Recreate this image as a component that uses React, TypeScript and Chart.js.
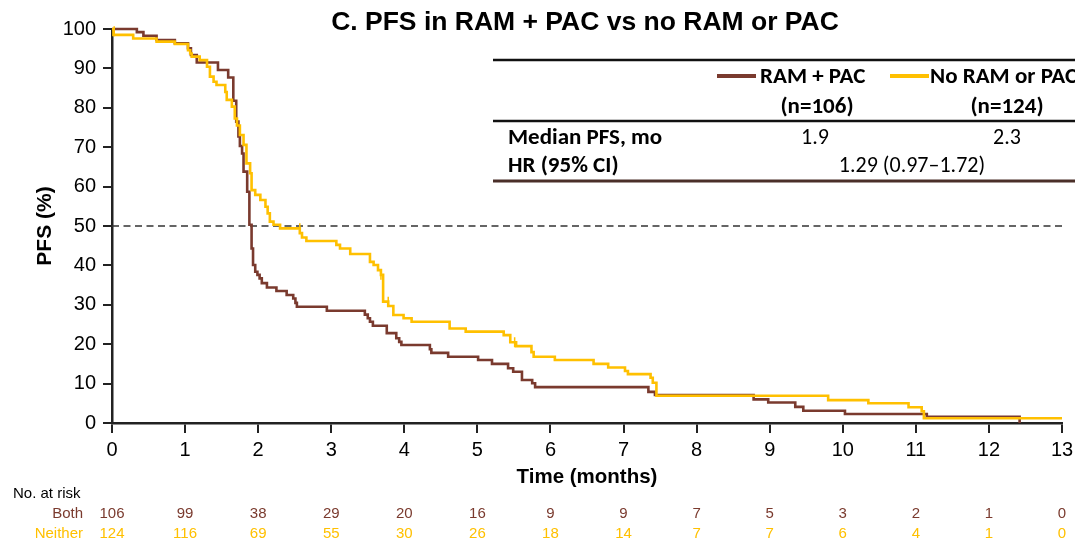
import React, { useEffect, useRef } from "react";
import { Chart, registerables } from "chart.js";

Chart.register(...registerables);

// ---- Data ----
const seriesLabels = ["RAM + PAC", "No RAM or PAC"];
const seriesN = ["(n=106)", "(n=124)"];
const medianPfs = ["1.9", "2.3"];
const hrText = "1.29 (0.97\u20131.72)";
const riskLabels = ["Both", "Neither"];

const ramPacTime = [0, 0.34, 0.43, 0.61, 0.86, 1.04, 1.08, 1.16, 1.45, 1.59, 1.66, 1.70, 1.73, 1.75, 1.78, 1.80, 1.85, 1.88, 1.91, 1.93, 1.96, 1.99, 2.02, 2.05, 2.12, 2.25, 2.39, 2.48, 2.51, 2.53, 2.94, 3.46, 3.50, 3.53, 3.57, 3.76, 3.89, 3.93, 3.96, 4.35, 4.37, 4.60, 5.01, 5.20, 5.42, 5.49, 5.61, 5.75, 5.79, 7.34, 7.43, 8.78, 8.98, 9.35, 9.46, 10.03, 11.15, 12.42];
const ramPacPfs = [100, 99.2, 98.3, 97.2, 96.4, 95.1, 93.4, 91.5, 89.6, 87.7, 81.8, 76.5, 72.7, 70.3, 68.4, 63.8, 58.7, 50.3, 44.3, 40.1, 38.4, 37.6, 36.7, 35.5, 34.4, 33.5, 32.5, 31.6, 30.5, 29.5, 28.5, 27.5, 26.6, 25.7, 24.7, 22.8, 21.5, 20.6, 19.8, 18.7, 17.8, 16.8, 16.0, 15.0, 13.9, 13.0, 10.9, 10.1, 9.1, 7.9, 7.1, 6.0, 5.2, 4.1, 3.1, 2.3, 1.6, 0];

const neitherTime = [0, 0.02, 0.29, 0.61, 0.86, 1.04, 1.07, 1.09, 1.20, 1.30, 1.34, 1.39, 1.43, 1.55, 1.57, 1.64, 1.68, 1.71, 1.75, 1.80, 1.84, 1.89, 1.91, 1.96, 2.03, 2.10, 2.13, 2.16, 2.21, 2.30, 2.57, 2.60, 2.66, 3.07, 3.12, 3.26, 3.53, 3.58, 3.64, 3.68, 3.71, 3.78, 3.85, 3.99, 4.10, 4.62, 4.84, 5.36, 5.45, 5.53, 5.74, 5.77, 6.06, 6.59, 6.79, 7.02, 7.06, 7.37, 7.40, 7.45, 9.80, 10.35, 10.90, 11.08, 11.11, 13.0];
const neitherPfs = [100, 98.5, 97.6, 96.8, 96.2, 94.6, 93.8, 93.0, 92.1, 90.4, 87.9, 86.6, 85.8, 84.0, 82.0, 80.3, 77.3, 75.5, 73.1, 70.6, 65.9, 63.4, 59.1, 57.9, 56.6, 54.9, 53.2, 51.1, 50.3, 49.4, 48.2, 47.1, 46.2, 45.2, 44.3, 42.9, 40.9, 40.1, 38.8, 37.6, 30.8, 29.7, 27.4, 26.6, 25.7, 24.0, 23.2, 22.3, 20.5, 19.5, 18.0, 16.8, 16.0, 15.0, 14.1, 13.2, 12.4, 11.5, 10.2, 6.9, 5.8, 5.0, 4.0, 3.0, 1.2, 1.2];

const neitherCensorTime = [0.03, 2.57, 3.68, 3.78, 5.51];
const neitherCensorPfs = [99.4, 49.4, 37.6, 30.8, 20.5];

const xTickValues = [0, 1, 2, 3, 4, 5, 6, 7, 8, 9, 10, 11, 12, 13];
const riskBoth = [106, 99, 38, 29, 20, 16, 9, 9, 7, 5, 3, 2, 1, 0];
const riskNeither = [124, 116, 69, 55, 30, 26, 18, 14, 7, 7, 6, 4, 1, 0];

// ---- Styles ----
const BROWN = "#7a3a2e";
const YELLOW = "#ffc000";
const ARIAL = "'Liberation Sans', Arial, sans-serif";
const TABLE_FONT = "Carlito, Lato, 'Noto Sans', sans-serif";

const toPoints = (xs: number[], ys: number[]) => xs.map((x, i) => ({ x, y: ys[i] }));

const overlayPlugin = {
  id: "overlay",
  beforeDatasetsDraw(chart: any) {
    const { ctx, chartArea, scales } = chart;
    const y50 = scales.y.getPixelForValue(50);
    ctx.save();
    ctx.strokeStyle = "#333";
    ctx.lineWidth = 1.3;
    ctx.setLineDash([7, 4.5]);
    ctx.beginPath();
    ctx.moveTo(chartArea.left, y50);
    ctx.lineTo(chartArea.right, y50);
    ctx.stroke();
    ctx.restore();
  },
  afterDraw(chart: any) {
    const { ctx, scales } = chart;
    ctx.save();
    // Title
    ctx.fillStyle = "#000";
    ctx.font = `bold 26.5px ${ARIAL}`;
    ctx.textAlign = "center";
    ctx.textBaseline = "alphabetic";
    ctx.fillText("C. PFS in RAM + PAC vs no RAM or PAC", 585, 30);

    // Table lines
    ctx.lineWidth = 2.5;
    ctx.strokeStyle = "#111";
    ctx.beginPath();
    ctx.moveTo(493, 60);
    ctx.lineTo(1075, 60);
    ctx.moveTo(493, 121);
    ctx.lineTo(1075, 121);
    ctx.stroke();
    ctx.strokeStyle = "#4a2f29";
    ctx.lineWidth = 3;
    ctx.beginPath();
    ctx.moveTo(493, 181);
    ctx.lineTo(1075, 181);
    ctx.stroke();

    // Legend swatches
    ctx.lineWidth = 4;
    ctx.strokeStyle = BROWN;
    ctx.beginPath();
    ctx.moveTo(717, 76);
    ctx.lineTo(756, 76);
    ctx.stroke();
    ctx.strokeStyle = YELLOW;
    ctx.beginPath();
    ctx.moveTo(890, 76);
    ctx.lineTo(929, 76);
    ctx.stroke();

    ctx.fillStyle = "#000";
    ctx.textBaseline = "middle";
    ctx.font = `bold 23px ${TABLE_FONT}`;
    ctx.textAlign = "left";
    ctx.fillText(seriesLabels[0], 760, 77);
    ctx.fillText(seriesLabels[1], 930, 77);
    ctx.textAlign = "center";
    ctx.fillText(seriesN[0], 817, 107);
    ctx.fillText(seriesN[1], 1007, 107);
    ctx.textAlign = "left";
    ctx.fillText("Median PFS, mo", 508, 138);
    ctx.fillText("HR (95% CI)", 508, 166);
    ctx.font = `22px ${TABLE_FONT}`;
    ctx.textAlign = "center";
    ctx.fillText(medianPfs[0], 815, 138);
    ctx.fillText(medianPfs[1], 1007, 138);
    ctx.fillText(hrText, 912, 166);

    // Risk table
    ctx.font = `15px ${ARIAL}`;
    ctx.textAlign = "left";
    ctx.fillStyle = "#000";
    ctx.fillText("No. at risk", 13, 494);
    ctx.textAlign = "right";
    ctx.fillStyle = BROWN;
    ctx.fillText(riskLabels[0], 83, 514);
    ctx.fillStyle = YELLOW;
    ctx.fillText(riskLabels[1], 83, 534);
    ctx.textAlign = "center";
    xTickValues.forEach((t, i) => {
      const x = scales.x.getPixelForValue(t);
      ctx.fillStyle = BROWN;
      ctx.fillText(String(riskBoth[i]), x, 514);
      ctx.fillStyle = YELLOW;
      ctx.fillText(String(riskNeither[i]), x, 534);
    });
    ctx.restore();
  },
};

export default function App() {
  const canvasRef = useRef<HTMLCanvasElement | null>(null);

  useEffect(() => {
    const canvas = canvasRef.current;
    if (!canvas) return;
    const chart = new Chart(canvas, {
      type: "line",
      data: {
        datasets: [
          {
            label: "Neither censored",
            data: toPoints(neitherCensorTime, neitherCensorPfs),
            showLine: false,
            pointStyle: "line",
            rotation: 90,
            pointRadius: 5,
            borderColor: YELLOW,
            backgroundColor: YELLOW,
            pointBorderWidth: 1.5,
            clip: 8,
          } as any,
          {
            label: seriesLabels[1],
            data: toPoints(neitherTime, neitherPfs),
            stepped: true,
            borderColor: YELLOW,
            borderWidth: 2.6,
            pointRadius: 0,
            fill: false,
            clip: 8,
          },
          {
            label: seriesLabels[0],
            data: toPoints(ramPacTime, ramPacPfs),
            stepped: true,
            borderColor: BROWN,
            borderWidth: 2.6,
            pointRadius: 0,
            fill: false,
            clip: 8,
          },
        ],
      },
      options: {
        responsive: false,
        animation: false,
        layout: { padding: { left: 0, right: 13, top: 29, bottom: 51 } },
        plugins: { legend: { display: false }, tooltip: { enabled: false }, title: { display: false } },
        scales: {
          x: {
            type: "linear",
            min: 0,
            max: 13,
            afterFit: (s: any) => { s.height = 70; s.paddingLeft = 0; s.paddingRight = 0; },
            afterBuildTicks: (s: any) => { s.ticks = xTickValues.map((v) => ({ value: v })); },
            grid: { drawOnChartArea: false, drawTicks: true, tickLength: 10, color: "#222", lineWidth: 2 },
            border: { display: true, color: "#222", width: 2.5 },
            ticks: { font: { family: ARIAL, size: 20 }, color: "#000", padding: 5, maxRotation: 0, autoSkip: false },
            title: { display: true, text: "Time (months)", font: { family: ARIAL, size: 20.5, weight: "bold" }, color: "#000", padding: { top: 0, bottom: 3 } },
          },
          y: {
            type: "linear",
            min: 0,
            max: 100,
            afterFit: (s: any) => { s.width = 112; s.paddingTop = 0; s.paddingBottom = 0; },
            grid: { drawOnChartArea: false, drawTicks: true, tickLength: 9, color: "#222", lineWidth: 2 },
            border: { display: true, color: "#222", width: 2.5 },
            ticks: { stepSize: 10, font: { family: ARIAL, size: 20 }, color: "#000", padding: 7 },
            title: { display: true, text: "PFS (%)", font: { family: ARIAL, size: 21, weight: "bold" }, color: "#000", padding: { top: 33, bottom: 0 } },
          },
        },
      },
      plugins: [overlayPlugin],
    });
    return () => chart.destroy();
  }, []);

  return (
    <div style={{ position: "absolute", left: 0, top: 0, width: 1075, height: 544, background: "#fff" }}>
      <canvas ref={canvasRef} width={1075} height={544} style={{ display: "block" }} />
    </div>
  );
}
